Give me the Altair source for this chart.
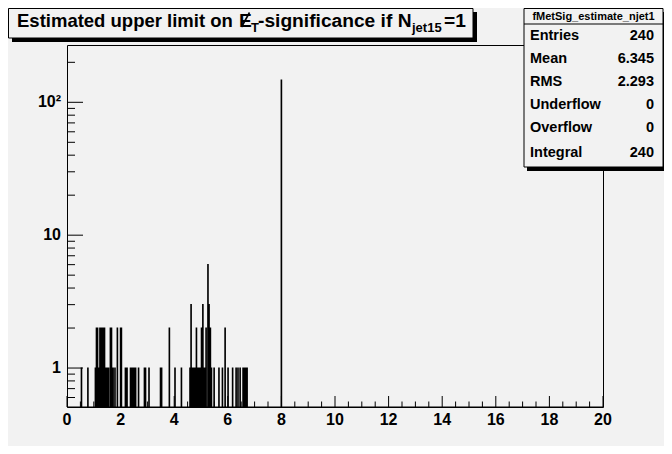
import altair as alt
import pandas as pd

# ---------------- data ----------------
bin_centers = [0.54, 0.78, 1.06, 1.10, 1.14, 1.19, 1.23, 1.29, 1.34, 1.40,
               1.46, 1.49, 1.55, 1.62, 1.66, 1.72, 1.79, 1.88, 2.00, 2.03,
               2.18, 2.24, 2.37, 2.41, 2.46, 2.50, 2.56, 2.67, 2.89, 2.93,
               3.06, 3.49, 3.53, 3.82, 4.03,
               4.27, 4.59, 4.63, 4.68, 4.72, 4.78, 4.83, 4.89, 4.93, 4.98,
               5.02, 5.07, 5.13, 5.19, 5.26, 5.30, 5.35, 5.39, 5.49, 5.67,
               5.80, 5.90, 6.01, 6.18, 6.31, 6.38, 6.46, 6.57, 6.63, 6.68,
               6.72, 8.00]
bin_counts = [1, 1, 1, 2, 2, 1, 2, 2, 2, 2,
              1, 1, 1, 2, 2, 1, 1, 2, 2, 2,
              1, 1, 1, 1, 1, 1, 1, 1, 1, 1,
              1, 1, 1, 2, 1,
              1, 1, 3, 1, 1, 1, 2, 1, 1, 1,
              2, 3, 1, 2, 6, 3, 2, 1, 1, 1,
              1, 2, 1, 1, 1, 1, 1, 1, 1, 1,
              1, 147]
BIN_W = 0.02

x_major = [0, 2, 4, 6, 8, 10, 12, 14, 16, 18, 20]
x_labels = ["0", "2", "4", "6", "8", "10", "12", "14", "16", "18", "20"]
x_minor = [i * 0.5 for i in range(41) if i % 4 != 0]
y_major = [1, 10, 100]
y_labels = ["1", "10", "10²"]
y_minor = [0.6, 0.7, 0.8, 0.9, 2, 3, 4, 5, 6, 7, 8, 9,
           20, 30, 40, 50, 60, 70, 80, 90, 200]

title_parts = ["Estimated upper limit on ", "E", "T",
               "-significance if N", "jet15", "=1"]
stats_name = "fMetSig_estimate_njet1"
stats_labels = ["Entries", "Mean", "RMS", "Underflow", "Overflow", "Integral"]
stats_values = ["240", "6.345", "2.293", "0", "0", "240"]

# ---------------- layout ----------------
W, H = 536, 362
FONT = "Liberation Sans"
BG = "#f2f2f2"

# histogram outline (ROOT style: empty bins fall to the bottom of a log axis)
FLOOR = 0.01
pts = []


def add(x, y):
    pts.append({"x": x, "y": y, "o": len(pts)})


add(0.0, FLOOR)
for c, n in sorted(zip(bin_centers, bin_counts)):
    lo, hi = c - BIN_W / 2, c + BIN_W / 2
    add(lo, FLOOR)
    add(lo, n)
    add(hi, n)
    add(hi, FLOOR)
add(20.0, FLOOR)
hist_df = pd.DataFrame(pts)

xscale = alt.Scale(domain=[0, 20], nice=False, zero=False)
yscale = alt.Scale(type="log", domain=[0.509, 270], nice=False, clamp=True)

hist = alt.Chart(hist_df).mark_line(color="black", strokeWidth=1.1).encode(
    x=alt.X("x:Q", scale=xscale, axis=None),
    y=alt.Y("y:Q", scale=yscale, axis=None),
    order="o:Q",
)

xt_major = alt.Chart(pd.DataFrame({"t": x_major})).mark_rule(color="black").encode(
    x=alt.X("t:Q", scale=xscale, axis=None), y=alt.value(H), y2=alt.value(H - 11))
xt_minor = alt.Chart(pd.DataFrame({"t": x_minor})).mark_rule(color="black").encode(
    x=alt.X("t:Q", scale=xscale, axis=None), y=alt.value(H), y2=alt.value(H - 5.5))
yt_major = alt.Chart(pd.DataFrame({"t": y_major})).mark_rule(color="black").encode(
    y=alt.Y("t:Q", scale=yscale, axis=None), x=alt.value(0), x2=alt.value(16))
yt_minor = alt.Chart(pd.DataFrame({"t": y_minor})).mark_rule(color="black").encode(
    y=alt.Y("t:Q", scale=yscale, axis=None), x=alt.value(0), x2=alt.value(8))

x_lab = alt.Chart(pd.DataFrame({"t": x_major, "s": x_labels})).mark_text(
    font=FONT, fontSize=16, fontWeight="bold", color="black",
    align="center", baseline="top").encode(
    x=alt.X("t:Q", scale=xscale, axis=None), y=alt.value(H + 5), text="s:N")
y_lab = alt.Chart(pd.DataFrame({"t": y_major, "s": y_labels})).mark_text(
    font=FONT, fontSize=16, fontWeight="bold", color="black",
    align="right", baseline="middle").encode(
    y=alt.Y("t:Q", scale=yscale, axis=None), x=alt.value(-6), text="s:N")

dummy = pd.DataFrame({"a": [0]})


def box(x1, y1, x2, y2, fill, stroke=None):
    kw = dict(fill=fill)
    if stroke:
        kw.update(stroke=stroke, strokeWidth=1)
    return alt.Chart(dummy).mark_rect(**kw).encode(
        x=alt.value(x1), x2=alt.value(x2), y=alt.value(y1), y2=alt.value(y2))


def txt(s, x, y, size, weight="bold", align="left", baseline="alphabetic"):
    return alt.Chart(dummy).mark_text(
        text=s, font=FONT, fontSize=size, fontWeight=weight, align=align,
        baseline=baseline, color="black").encode(x=alt.value(x), y=alt.value(y))


layers = [hist, xt_major, xt_minor, yt_major, yt_minor, x_lab, y_lab]

# title box
layers += [box(-55, -33, 410, -3, "black"), box(-58.5, -36.5, 406, -7, BG, "black")]
TB = -18.5
SB = -13.5
TF = 19.2
layers += [
    txt(title_parts[0], -50, TB, 18.5),
    txt(title_parts[1], 172, TB, TF),
    txt(title_parts[2], 184, SB, 13),
    txt(title_parts[3], 191, TB, TF),
    txt(title_parts[4], 345, SB, 13),
    txt(title_parts[5], 377, TB, TF),
]
# the slash of the "missing E_T" symbol
layers.append(alt.Chart(dummy).mark_rule(color="black", strokeWidth=1.6).encode(
    x=alt.value(174.5), y=alt.value(TB + 0.5), x2=alt.value(182.5), y2=alt.value(TB - 14)))

# stats box
layers += [box(460, -33, 599, 126, "black"), box(457, -36.5, 596, 122, BG, "black")]
layers.append(alt.Chart(dummy).mark_rule(color="black").encode(
    x=alt.value(457), x2=alt.value(596), y=alt.value(-21)))
layers.append(txt(stats_name, 526.5, -28.5, 11, align="center", baseline="middle"))
row_y = [-9, 14, 37, 60, 83, 108]
for lab, val, ry in zip(stats_labels, stats_values, row_y):
    layers.append(txt(lab, 463, ry, 14.5, baseline="middle"))
    layers.append(txt(val, 587, ry, 14.5, align="right", baseline="middle"))

# total chart size 656 x 438 so the page (with its 8px margins) fits 672 x 454
chart = alt.layer(*layers).properties(
    width=W, height=H,
    autosize=alt.AutoSizeParams(type="none"),
    padding={"left": 59, "top": 37, "right": 61, "bottom": 39},
    background=BG,
).configure_view(stroke="black", strokeWidth=1, fill=BG)

chart.save("out.html", embed_options={"renderer": "svg", "actions": False})
